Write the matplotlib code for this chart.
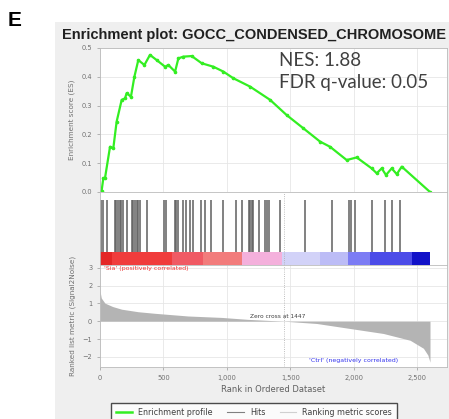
import matplotlib
matplotlib.use("Agg")
from matplotlib import pyplot as plt
from matplotlib.patches import Rectangle
from matplotlib.lines import Line2D

# data
es_rank = [0, 13, 26, 40, 79, 105, 131, 171, 197, 210, 244, 271, 302, 350, 394, 447, 513, 539,
           592, 618, 657, 723, 802, 894, 973, 1051, 1183, 1341, 1472, 1604, 1735, 1814, 1945,
           2024, 2142, 2182, 2221, 2255, 2300, 2340, 2379, 2602]
es_score = [0.0, 0.005, 0.047, 0.05, 0.157, 0.152, 0.244, 0.32, 0.325, 0.343, 0.331, 0.40, 0.458,
            0.441, 0.476, 0.458, 0.435, 0.441, 0.418, 0.464, 0.47, 0.472, 0.447, 0.435, 0.418,
            0.395, 0.366, 0.32, 0.267, 0.221, 0.175, 0.157, 0.111, 0.12, 0.082, 0.065, 0.082,
            0.059, 0.082, 0.062, 0.088, 0.0]

hits = [8, 24, 55, 118, 130, 142, 154, 166, 181, 213, 252, 264, 276, 288, 300, 312, 371, 505,
        520, 591, 603, 615, 651, 682, 710, 733, 796, 828, 879, 970, 1072, 1116, 1171, 1183,
        1199, 1210, 1254, 1301, 1317, 1333, 1423, 1620, 1826, 1960, 1979, 2011, 2141, 2247,
        2299, 2366]

metric_rank = [0, 10, 39, 100, 171, 300, 434, 695, 959, 1168, 1447, 1709, 1971, 2234, 2445,
               2550, 2585, 2602]
metric_value = [1.7, 1.3, 1.01, 0.82, 0.67, 0.53, 0.44, 0.29, 0.21, 0.1, 0.0, -0.13, -0.41,
                -0.69, -1.07, -1.52, -1.9, -2.3]

band_edges = [0, 92, 565, 815, 1117, 1432, 1735, 1958, 2129, 2458, 2602]
band_colors = ['#e42626', '#f03c3c', '#f05a64', '#f27c7c', '#f4b0dc', '#d2d2f8',
               '#bcbcf6', '#7c7cf4', '#4c4ce8', '#1212c8']

zero_cross = 1447
n_genes = 2736

W, H = 449, 419


def rect(x0, y0, x1, y1):
    return [x0 / W, 1 - y1 / H, (x1 - x0) / W, (y1 - y0) / H]


fig = plt.figure(figsize=(W / 100, H / 100), dpi=100)
fig.patches.append(Rectangle((55 / W, 0), 1, 1 - 22 / H, transform=fig.transFigure,
                             facecolor='#efefef', edgecolor='none', zorder=-10))

fig.text(8 / W, 1 - 20 / H, 'E', fontsize=15, fontweight='bold', va='center',
         family='Liberation Sans')
fig.text(254 / W, 1 - 35 / H, 'Enrichment plot: GOCC_CONDENSED_CHROMOSOME', fontsize=10.5,
         fontweight='bold', ha='center', va='center', color='#202020', family='Liberation Sans')

tick_kw = dict(labelsize=4.8, labelcolor='#707070', length=2, width=0.5, color='#999999')
grid_c = '#e6e6e6'

# enrichment score panel
ax1 = fig.add_axes(rect(100, 48, 447, 192))
ax1.plot(es_rank, es_score, color='#33ee22', lw=1.6, marker='o', ms=1.6)
ax1.set_xlim(0, n_genes)
ax1.set_ylim(0, 0.5)
ax1.set_yticks([0, 0.1, 0.2, 0.3, 0.4, 0.5])
ax1.set_yticklabels(['0.0', '0.1', '0.2', '0.3', '0.4', '0.5'])
ax1.set_xticks([0, 500, 1000, 1500, 2000, 2500])
ax1.tick_params(axis='x', labelbottom=False, length=0)
ax1.tick_params(axis='y', **tick_kw)
ax1.grid(True, color=grid_c, lw=0.6)
ax1.set_axisbelow(True)
ax1.set_ylabel('Enrichment score (ES)', fontsize=5.2, color='#707070', labelpad=5)
ax1.text(0.515, 0.915, 'NES: 1.88', transform=ax1.transAxes, fontsize=13.5, color='#404040',
         family='Lato', va='center')
ax1.text(0.515, 0.76, 'FDR q-value: 0.05', transform=ax1.transAxes, fontsize=13.5,
         color='#404040', family='Lato', va='center')

# hits panel with colour band
ax2 = fig.add_axes(rect(100, 192, 447, 265))
ax2.vlines(hits, 0.178, 0.89, color='#606060', lw=1.3, alpha=0.85)
lefts = band_edges[:-1]
widths = [b - a for a, b in zip(band_edges[:-1], band_edges[1:])]
ax2.bar(lefts, [0.178] * len(lefts), width=widths, bottom=0, align='edge',
        color=band_colors, edgecolor='none')
ax2.axvline(zero_cross, color='#aaaaaa', lw=0.6, ls=':')
ax2.set_xlim(0, n_genes)
ax2.set_ylim(0, 1)
ax2.set_xticks([])
ax2.set_yticks([])

# ranked list metric panel
ax3 = fig.add_axes(rect(100, 265, 447, 367))
ax3.fill_between(metric_rank, metric_value, 0, color='#b4b4b4', lw=0)
ax3.axvline(zero_cross, color='#aaaaaa', lw=0.6, ls=':')
ax3.set_xlim(0, n_genes)
ax3.set_ylim(-2.57, 3.15)
ax3.set_yticks([-2, -1, 0, 1, 2, 3])
ax3.set_xticks([0, 500, 1000, 1500, 2000, 2500])
ax3.set_xticklabels(['0', '500', '1,000', '1,500', '2,000', '2,500'])
ax3.tick_params(**tick_kw)
ax3.grid(True, color=grid_c, lw=0.6)
ax3.set_axisbelow(True)
ax3.set_xlabel('Rank in Ordered Dataset', fontsize=6, color='#606060', labelpad=3)
ax3.set_ylabel('Ranked list metric (Signal2Noise)', fontsize=5.2, color='#707070', labelpad=5)
ax3.text(30, 2.95, "'Sia' (positively correlated)", fontsize=4.5, color='#ee3333', va='center')
ax3.text(1183, 0.12, 'Zero cross at 1447', fontsize=4.2, color='#404040', va='bottom')
ax3.text(1650, -2.2, "'Ctrl' (negatively correlated)", fontsize=4.5, color='#3333ee',
         va='center')

for ax in (ax1, ax2, ax3):
    for s in ax.spines.values():
        s.set_color('#bbbbbb')
        s.set_linewidth(0.6)

handles = [Line2D([], [], color='#33ee22', lw=1.8),
           Line2D([], [], color='#808080', lw=0.8),
           Line2D([], [], color='#d0d0d0', lw=0.8)]
fig.legend(handles, ['Enrichment profile', 'Hits', 'Ranking metric scores'], ncol=3,
           loc='upper center', bbox_to_anchor=(254 / W, 1 - 399 / H), fontsize=5.8,
           frameon=True, edgecolor='#202020', fancybox=False, handlelength=2.0,
           columnspacing=1.8, borderpad=0.6, labelcolor='#404040')

fig.savefig('out.png', dpi=100, facecolor='white')
